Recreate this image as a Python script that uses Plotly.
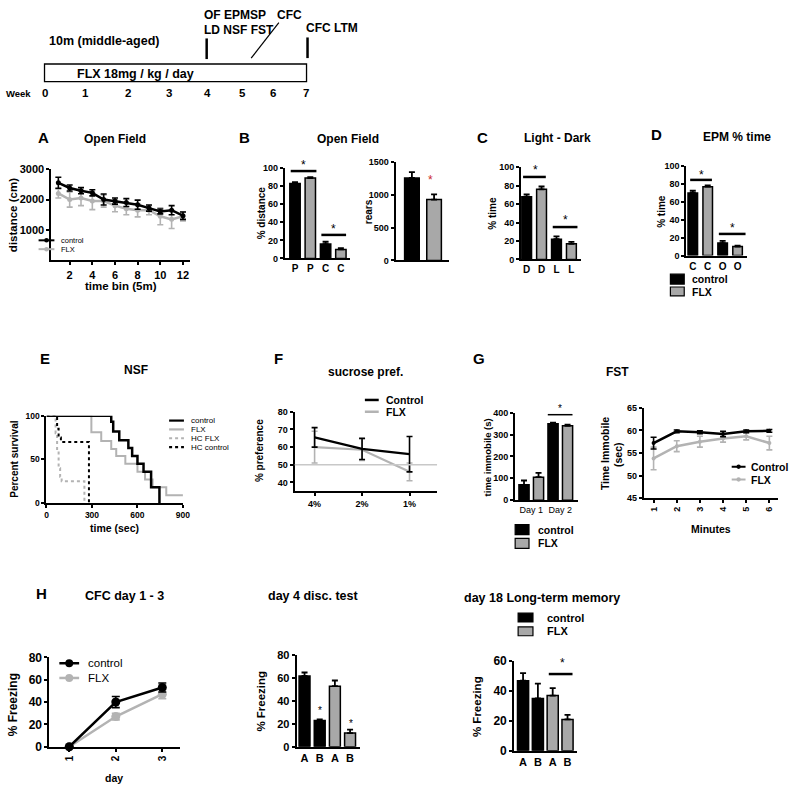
import plotly.graph_objects as go

W, H = 800, 795
FONT = "Liberation Sans, Arial, Helvetica, sans-serif"
BLACK = "#000000"
GRAY = "#a8a8a8"
LGRAY = "#b3b3b3"

# ---------------- data ----------------
week_labels = ["0", "1", "2", "3", "4", "5", "6", "7"]
week_x = [43, 84, 127, 169, 208, 243, 274, 307]

# A  Open field distance per 5-min bin
of_bins = list(range(1, 13))
of_ctrl = [2550, 2380, 2290, 2220, 2000, 1950, 1900, 1830, 1720, 1610, 1650, 1470]
of_ctrl_err = [180, 100, 100, 100, 180, 100, 130, 150, 100, 80, 150, 120]
of_flx = [2200, 2000, 2050, 1950, 1950, 1800, 1700, 1650, 1650, 1450, 1350, 1450]
of_flx_err = [150, 250, 250, 280, 200, 200, 200, 220, 150, 280, 300, 150]

# B  Open field % distance (P, C) and rears
b_labels = ["P", "P", "C", "C"]
b_ctrl = [83, 16]
b_ctrl_err = [1.5, 2.5]
b_flx = [89, 10]
b_flx_err = [1, 1.5]
rears_ctrl = [1260]
rears_ctrl_err = [90]
rears_flx = [930]
rears_flx_err = [80]

# C  Light-Dark
c_labels = ["D", "D", "L", "L"]
c_ctrl = [68, 22]
c_ctrl_err = [2.5, 3]
c_flx = [76, 17]
c_flx_err = [3, 2]

# D  EPM % time
d_labels = ["C", "C", "O", "O"]
d_ctrl = [70, 14]
d_ctrl_err = [2.5, 2.5]
d_flx = [77, 10]
d_flx_err = [1.5, 1]

# E  NSF survival (time in s, percent surviving)
nsf_ctrl_t = [0, 427, 440, 480, 540, 565, 600, 640, 690, 745]
nsf_ctrl_s = [100, 93, 82, 72, 63, 54, 45, 36, 18, 0]
nsf_flx_t = [0, 296, 361, 427, 460, 520, 600, 650, 700, 790, 900]
nsf_flx_s = [100, 81, 71, 62, 54, 45, 36, 27, 18, 9, 9]
nsf_hcflx_t = [0, 60, 70, 80, 90, 100, 250]
nsf_hcflx_s = [100, 80, 60, 40, 30, 25, 0]
nsf_hcctrl_t = [0, 70, 80, 95, 280]
nsf_hcctrl_s = [100, 85, 75, 70, 0]

# F  sucrose preference
sp_conc = ["4%", "2%", "1%"]
sp_ctrl = [65.5, 59, 56]
sp_ctrl_err = [5.5, 6, 10]
sp_flx = [60, 58.5, 46]
sp_flx_err = [9, 6, 5]

# G  FST
fst_days = ["Day 1", "Day 2"]
fst_ctrl = [70, 350]
fst_ctrl_err = [20, 5]
fst_flx = [105, 340]
fst_flx_err = [20, 5]
fst_min = [1, 2, 3, 4, 5, 6]
fst_min_ctrl = [57.2, 59.8, 59.6, 59.2, 59.8, 59.9]
fst_min_ctrl_err = [1.3, 0.3, 0.3, 0.6, 0.3, 0.3]
fst_min_flx = [53.8, 56.5, 57.5, 58.2, 58.7, 57.2]
fst_min_flx_err = [2.5, 1.2, 1.2, 0.8, 0.8, 1.5]

# H  CFC
cfc_days = [1, 2, 3]
cfc_ctrl = [0, 40, 53]
cfc_ctrl_err = [0, 5, 4]
cfc_flx = [0, 27, 47]
cfc_flx_err = [0, 3, 4]
disc_labels = ["A", "B", "A", "B"]
disc_ctrl = [62, 23]
disc_ctrl_err = [3, 1]
disc_flx = [53, 12]
disc_flx_err = [5, 3]
ltm_labels = ["A", "B", "A", "B"]
ltm_ctrl = [47, 35]
ltm_ctrl_err = [5, 10]
ltm_flx = [37, 21]
ltm_flx_err = [5, 3]

# ---------------- helpers ----------------
def px(x):
    return x / W

def py(y):
    return 1 - y / H

fig = go.Figure()
annotations, shapes, axes_layout = [], [], {}
count = [0]


def text(x, y, s, size=12, bold=True, xanchor="center", yanchor="middle", color=BLACK, angle=0):
    annotations.append(dict(x=px(x), y=py(y), xref="paper", yref="paper", text=s, showarrow=False,
                            xanchor=xanchor, yanchor=yanchor, textangle=angle, borderpad=0,
                            font=dict(family=FONT, size=size, color=color,
                                      weight="bold" if bold else "normal")))


def pline(x0, y0, x1, y1, color=BLACK, width=2, dash="solid"):
    shapes.append(dict(type="line", xref="paper", yref="paper", x0=px(x0), y0=py(y0),
                       x1=px(x1), y1=py(y1), line=dict(color=color, width=width, dash=dash)))


def prect(x0, y0, x1, y1, fill, lw=1.2):
    shapes.append(dict(type="rect", xref="paper", yref="paper", x0=px(x0), y0=py(y1),
                       x1=px(x1), y1=py(y0), fillcolor=fill, line=dict(color=BLACK, width=lw)))


def pdot(cx, cy, r, fill):
    shapes.append(dict(type="circle", xref="paper", yref="paper", x0=px(cx - r), y0=py(cy + r),
                       x1=px(cx + r), y1=py(cy - r), fillcolor=fill, line=dict(color=fill, width=0)))


def add_axes(x0, x1, y0, y1, xrange, yrange, tick_size=9, xextra=None, yextra=None):
    count[0] += 1
    k = count[0]
    s = "" if k == 1 else str(k)
    common = dict(showline=True, linecolor=BLACK, linewidth=2, showgrid=False, zeroline=False,
                  ticks="outside", ticklen=3, tickwidth=2, tickcolor=BLACK, fixedrange=True,
                  tickfont=dict(family=FONT, size=tick_size, color=BLACK, weight="bold"))
    xa = dict(common, domain=[px(x0), px(x1)], range=xrange, anchor="y" + s)
    ya = dict(common, domain=[py(y1), py(y0)], range=yrange, anchor="x" + s)
    if xextra:
        xa.update(xextra)
    if yextra:
        ya.update(yextra)
    axes_layout["xaxis" + s] = xa
    axes_layout["yaxis" + s] = ya
    return "x" + s, "y" + s


def bars(xa, ya, pos, vals, errs, color, width):
    fig.add_trace(go.Bar(x=pos, y=vals, xaxis=xa, yaxis=ya, width=width,
                         marker=dict(color=color, line=dict(color=BLACK, width=1.5)),
                         error_y=dict(type="data", array=errs, arrayminus=[0] * len(errs),
                                      symmetric=False, color=BLACK, thickness=1.8, width=3),
                         showlegend=False, hoverinfo="skip"))


def line(xa, ya, x, y, err, color, lw=2.5, msize=5, symbol="circle", capw=3):
    fig.add_trace(go.Scatter(x=x, y=y, xaxis=xa, yaxis=ya, mode="lines+markers" if msize else "lines",
                             line=dict(color=color, width=lw),
                             marker=dict(color=color, size=msize, symbol=symbol),
                             error_y=dict(type="data", array=err, color=color, thickness=1.6, width=capw),
                             showlegend=False, hoverinfo="skip", cliponaxis=False))


def star(x, y, color=BLACK, size=12):
    text(x, y, "*", size=size, bold=False, color=color)

# ---------------- timeline ----------------
text(47, 35, "10m (middle-aged)", 12.5, xanchor="left")
prect(43, 58, 308, 76, "white", 1.3)
text(75, 68, "FLX 18mg / kg / day", 12.5, xanchor="left")
text(3, 88, "Week", 9.5, xanchor="left")
for lab, xx in zip(week_labels, week_x):
    text(xx, 88, lab, 11.5)
pline(207, 32, 207, 53, width=2.5)
pline(309, 31, 309, 52, width=2.5)
pline(252, 52, 280, 16, width=1.2)
text(203, 8, "OF EPMSP", 12, xanchor="left")
text(203, 23, "LD NSF FST", 12, xanchor="left")
text(277, 8, "CFC", 12, xanchor="left")
text(306, 21, "CFC LTM", 12, xanchor="left")

# ---------------- A ----------------
text(42, 133, "A", 15)
text(114, 134, "Open Field", 12)
xa, ya = add_axes(50, 190, 165, 258, [0.39, 12.61], [0, 3000], tick_size=11,
                  xextra=dict(tickvals=[2, 4, 6, 8, 10, 12]),
                  yextra=dict(tickvals=[1000, 2000, 3000]))
line(xa, ya, of_bins, of_flx, of_flx_err, LGRAY, lw=2.5, msize=5)
line(xa, ya, of_bins, of_ctrl, of_ctrl_err, BLACK, lw=2.5, msize=5)
text(11, 212, "distance (cm)", 11.5, angle=-90)
text(120, 284, "time bin (5m)", 11.5)
pline(37, 237.5, 53, 237.5, BLACK, 2)
pdot(45, 237.5, 2.3, BLACK)
text(59, 237.5, "control", 7.5, bold=False, xanchor="left")
pline(37, 246.5, 53, 246.5, LGRAY, 2)
pdot(45, 246.5, 2.3, LGRAY)
text(59, 246.5, "FLX", 7.5, bold=False, xanchor="left")

# ---------------- B ----------------
text(245, 133, "B", 15)
text(350, 134, "Open Field", 12)
xa, ya = add_axes(286, 352, 164, 256, [-0.67, 3.6], [0, 100],
                  xextra=dict(ticks="", tickvals=[0, 1, 2, 3], ticktext=b_labels,
                              tickfont=dict(family=FONT, size=10, color=BLACK, weight="bold")),
                  yextra=dict(tickvals=[0, 20, 40, 60, 80, 100]))
bars(xa, ya, [0, 2], b_ctrl, b_ctrl_err, BLACK, 0.68)
bars(xa, ya, [1, 3], b_flx, b_flx_err, GRAY, 0.68)
text(262, 210, "% distance", 10, angle=-90)
pline(292, 167, 318, 167, width=2.5)
star(305, 161)
pline(323, 232, 348, 232, width=2.5)
star(335, 226)

xa, ya = add_axes(398, 452, 158, 258, [-0.74, 1.67], [0, 1500],
                  xextra=dict(ticks="", showticklabels=False),
                  yextra=dict(tickvals=[0, 500, 1000, 1500]))
bars(xa, ya, [0], rears_ctrl, rears_ctrl_err, BLACK, 0.66)
bars(xa, ya, [1], rears_flx, rears_flx_err, GRAY, 0.66)
text(370, 208, "rears", 10, angle=-90)
star(433, 176, color="#cc2a2a")

# ---------------- C ----------------
text(486, 133, "C", 15)
text(562, 133, "Light - Dark", 12)
xa, ya = add_axes(525, 586, 163, 257, [-0.37, 3.67], [0, 100],
                  xextra=dict(ticks="", tickvals=[0, 1, 2, 3], ticktext=c_labels,
                              tickfont=dict(family=FONT, size=10, color=BLACK, weight="bold")),
                  yextra=dict(tickvals=[0, 20, 40, 60, 80, 100]))
bars(xa, ya, [0, 2], c_ctrl, c_ctrl_err, BLACK, 0.66)
bars(xa, ya, [1, 3], c_flx, c_flx_err, GRAY, 0.66)
text(496, 210, "% time", 10, angle=-90)
pline(527, 173, 550, 173, width=2.5)
star(540, 166)
pline(557, 224, 582, 224, width=2.5)
star(570, 217)

# ---------------- D ----------------
text(662, 130, "D", 15)
text(743, 132, "EPM % time", 12)
xa, ya = add_axes(692, 753, 162, 253, [-0.44, 3.6], [0, 100],
                  xextra=dict(ticks="", tickvals=[0, 1, 2, 3], ticktext=d_labels,
                              tickfont=dict(family=FONT, size=10, color=BLACK, weight="bold")),
                  yextra=dict(tickvals=[0, 20, 40, 60, 80, 100]))
bars(xa, ya, [0, 2], d_ctrl, d_ctrl_err, BLACK, 0.64)
bars(xa, ya, [1, 3], d_flx, d_flx_err, GRAY, 0.64)
text(667, 208, "% time", 10, angle=-90)
pline(696, 176, 718, 176, width=2.5)
star(707, 171)
pline(725, 231, 752, 231, width=2.5)
star(739, 225)
prect(676, 272, 690, 282, BLACK)
text(697, 277, "control", 10.5, xanchor="left")
prect(676, 285, 690, 294, GRAY)
text(697, 290, "FLX", 10.5, xanchor="left")

# ---------------- E ----------------
text(43, 358, "E", 15)
text(136, 370, "NSF", 12)
xa, ya = add_axes(45, 183, 416, 505, [0, 900], [0, 100], tick_size=8.5,
                  xextra=dict(tickvals=[0, 300, 600, 900]),
                  yextra=dict(tickvals=[0, 50, 100]))
for t, s, c, w, d in [(nsf_hcflx_t, nsf_hcflx_s, LGRAY, 2, "dot"),
                      (nsf_hcctrl_t, nsf_hcctrl_s, BLACK, 2, "dot"),
                      (nsf_flx_t, nsf_flx_s, LGRAY, 2, "solid"),
                      (nsf_ctrl_t, nsf_ctrl_s, BLACK, 2.5, "solid")]:
    fig.add_trace(go.Scatter(x=t, y=s, xaxis=xa, yaxis=ya, mode="lines",
                             line=dict(color=c, width=w, dash=d, shape="hv"),
                             showlegend=False, hoverinfo="skip", cliponaxis=False))
text(13, 460, "Percent survival", 10, angle=-90)
text(114, 530, "time (sec)", 10.5)
for i, (lab, c, d) in enumerate([("control", BLACK, "solid"), ("FLX", LGRAY, "solid"),
                                  ("HC FLX", LGRAY, "dot"), ("HC control", BLACK, "dot")]):
    yy = 421 + i * 9
    pline(169, yy, 184, yy, c, 2.2, d)
    text(190, yy, lab, 8, bold=False, xanchor="left")

# ---------------- F ----------------
text(280, 358, "F", 15)
text(368, 372, "sucrose pref.", 12)
xa, ya = add_axes(296, 440, 412, 493, [-0.42, 2.58], [35, 80],
                  xextra=dict(type="category", tickfont=dict(family=FONT, size=9, color=BLACK, weight="bold")),
                  yextra=dict(tickvals=[40, 50, 60, 70, 80]))
shapes.append(dict(type="line", xref=xa + " domain", yref=ya, x0=0, x1=1, y0=50, y1=50,
                   line=dict(color="#c8c8c8", width=1.5)))
line(xa, ya, sp_conc, sp_flx, sp_flx_err, LGRAY, lw=2.2, msize=0, capw=3)
line(xa, ya, sp_conc, sp_ctrl, sp_ctrl_err, BLACK, lw=2.2, msize=0, capw=3)
text(260, 452, "% preference", 10, angle=-90)
pline(367, 400, 381, 400, BLACK, 2.5)
text(387, 400, "Control", 10.5, xanchor="left")
pline(367, 412, 381, 412, LGRAY, 2.5)
text(387, 412, "FLX", 10.5, xanchor="left")

# ---------------- G ----------------
text(482, 358, "G", 15)
text(623, 372, "FST", 12)
xa, ya = add_axes(519, 583, 413, 502, [-0.61, 3.75], [0, 400],
                  xextra=dict(ticks="", tickvals=[0.5, 2.5], ticktext=fst_days,
                              tickfont=dict(family=FONT, size=9, color=BLACK, weight="normal")),
                  yextra=dict(tickvals=[0, 100, 200, 300, 400]))
bars(xa, ya, [0, 2], fst_ctrl, fst_ctrl_err, BLACK, 0.7)
bars(xa, ya, [1, 3], fst_flx, fst_flx_err, GRAY, 0.7)
text(491, 458, "time immobile (s)", 9.5, angle=-90)
pline(552, 415, 577, 415, width=1.5)
star(564, 409, size=10)
prect(519, 527, 533, 537, BLACK)
text(541, 532, "control", 10.5, xanchor="left")
prect(519, 541, 533, 551, GRAY)
text(541, 546, "FLX", 10.5, xanchor="left")

xa, ya = add_axes(649, 785, 408, 500, [0.573, 6.38], [45, 65],
                  xextra=dict(tickvals=fst_min, tickangle=-90),
                  yextra=dict(tickvals=[45, 50, 55, 60, 65]))
line(xa, ya, fst_min, fst_min_flx, fst_min_flx_err, LGRAY, lw=2.5, msize=4)
line(xa, ya, fst_min, fst_min_ctrl, fst_min_ctrl_err, BLACK, lw=2.5, msize=4)
text(610, 455, "Time Immobile", 10.5, angle=-90)
text(623, 455, "(sec)", 10.5, angle=-90)
text(717, 531, "Minutes", 10.5)
pline(738, 468, 752, 468, BLACK, 2)
pdot(745, 468, 2.2, BLACK)
text(757, 468, "Control", 10.5, xanchor="left")
pline(738, 481, 752, 481, LGRAY, 2)
pdot(745, 481, 2.2, LGRAY)
text(757, 481, "FLX", 10.5, xanchor="left")

# ---------------- H ----------------
text(40, 597, "H", 15)
text(124, 600, "CFC day 1 - 3", 12.5)
xa, ya = add_axes(48, 180, 662, 753, [0.574, 3.38], [0, 80], tick_size=12,
                  xextra=dict(tickvals=cfc_days, tickangle=-90,
                              tickfont=dict(family=FONT, size=10, color=BLACK, weight="bold")),
                  yextra=dict(tickvals=[0, 20, 40, 60, 80]))
line(xa, ya, cfc_days, cfc_flx, cfc_flx_err, LGRAY, lw=2.5, msize=9, capw=4)
line(xa, ya, cfc_days, cfc_ctrl, cfc_ctrl_err, BLACK, lw=2.5, msize=9, capw=4)
text(12, 710, "% Freezing", 12, angle=-90)
text(113, 785, "day", 10.5)
pline(58, 668, 78, 668, BLACK, 2.5)
pdot(68, 668, 4, BLACK)
text(86, 668, "control", 11.5, bold=False, xanchor="left")
pline(58, 683, 78, 683, LGRAY, 2.5)
pdot(68, 683, 4, LGRAY)
text(86, 683, "FLX", 11.5, bold=False, xanchor="left")

text(315, 600, "day 4 disc. test", 12.5)
xa, ya = add_axes(298, 362, 660, 753, [-0.52, 3.65], [0, 80], tick_size=11,
                  xextra=dict(ticks="", tickvals=[0, 1, 2, 3], ticktext=disc_labels,
                              tickfont=dict(family=FONT, size=11, color=BLACK, weight="bold")),
                  yextra=dict(tickvals=[0, 20, 40, 60, 80]))
bars(xa, ya, [0, 1], disc_ctrl, disc_ctrl_err, BLACK, 0.72)
bars(xa, ya, [2, 3], disc_flx, disc_flx_err, GRAY, 0.72)
text(261, 707, "% Freezing", 11.5, angle=-90)
star(322, 716, size=10)
star(353, 729, size=10)

text(546, 602, "day 18 Long-term memory", 12.5)
prect(522, 617, 537, 626, BLACK)
text(550, 622, "control", 11, xanchor="left")
prect(522, 631, 537, 640, GRAY)
text(550, 635, "FLX", 11, xanchor="left")
xa, ya = add_axes(518, 582, 666, 757, [-0.6, 3.67], [0, 60], tick_size=12,
                  xextra=dict(ticks="", tickvals=[0, 1, 2, 3], ticktext=ltm_labels,
                              tickfont=dict(family=FONT, size=11, color=BLACK, weight="bold")),
                  yextra=dict(tickvals=[0, 20, 40, 60]))
bars(xa, ya, [0, 1], ltm_ctrl, ltm_ctrl_err, BLACK, 0.75)
bars(xa, ya, [2, 3], ltm_flx, ltm_flx_err, GRAY, 0.75)
text(481, 712, "% Freezing", 11.5, angle=-90)
pline(553, 679, 577, 679, width=2.5)
star(567, 668)

fig.update_layout(width=W, height=H, margin=dict(l=0, r=0, t=0, b=0),
                  paper_bgcolor="white", plot_bgcolor="white", showlegend=False,
                  barmode="overlay", annotations=annotations, shapes=shapes,
                  font=dict(family=FONT, color=BLACK), **axes_layout)
fig.write_html("out.html", config={"displayModeBar": False},
               post_script="document.body.style.margin='0';document.body.style.overflow='hidden';")
